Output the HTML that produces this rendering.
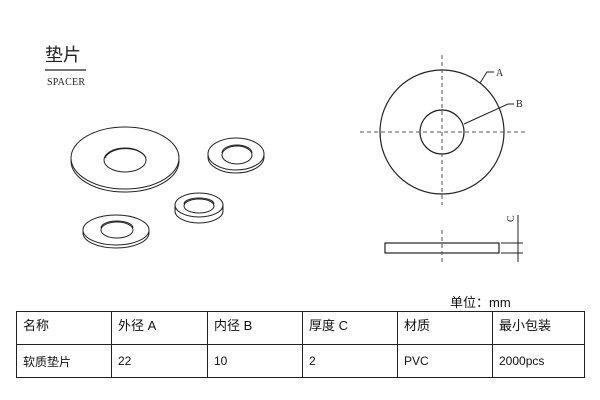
<!DOCTYPE html>
<html><head><meta charset="utf-8"><style>
body{margin:0;background:#fff;width:600px;height:400px;overflow:hidden;position:relative;font-family:"Liberation Sans","Noto Sans CJK SC",sans-serif}
table{position:absolute;left:16px;top:311px;border-collapse:collapse;font-size:12px;color:#111}
td{border:1.5px solid #222;padding:0 6px;height:33px;box-sizing:border-box;vertical-align:middle}
tr:first-child td{vertical-align:top;padding-top:3px;font-size:13px}
</style></head><body>
<svg width="600" height="400" style="position:absolute;left:0;top:0" fill="none" stroke="#222" stroke-width="1">
<text x="45" y="61" font-family="Noto Sans CJK SC,sans-serif" font-size="18" fill="#222" stroke="none">垫片</text>
<line x1="45" y1="70" x2="86" y2="70" stroke-width="1.2"/>
<text x="47" y="85" font-family="Liberation Serif,serif" font-size="10" fill="#222" stroke="none" textLength="38">SPACER</text>
<ellipse cx="125" cy="161" rx="54" ry="31"/>
<ellipse cx="125" cy="158" rx="54" ry="31" fill="#fff"/>
<ellipse cx="125" cy="160" rx="21" ry="12"/>
<path d="M105 158 A21 12 0 0 1 146 158"/>
<ellipse cx="236" cy="157" rx="28" ry="16"/>
<ellipse cx="236" cy="154" rx="28" ry="16" fill="#fff"/>
<ellipse cx="237" cy="155" rx="15" ry="9"/>
<path d="M222 153 A15 8 0 0 1 252 153"/>
<ellipse cx="199" cy="211" rx="24" ry="12"/>
<line x1="175" y1="205" x2="175" y2="211"/><line x1="223" y1="205" x2="223" y2="211"/>
<ellipse cx="199" cy="205" rx="24" ry="12" fill="#fff"/>
<ellipse cx="199" cy="206" rx="15" ry="7"/>
<path d="M184 204 A15 6 0 0 1 214 204"/>
<ellipse cx="116" cy="233" rx="33" ry="15"/>
<ellipse cx="116" cy="230" rx="33" ry="15" fill="#fff"/>
<ellipse cx="117" cy="230" rx="16" ry="8"/>
<path d="M101 228 A16 7 0 0 1 133 228"/>
<circle cx="442" cy="132" r="62" stroke-width="1.2"/>
<circle cx="442" cy="132" r="22" stroke-width="1.2"/>
<line x1="360" y1="132" x2="525" y2="132" stroke-dasharray="4,3" stroke="#555"/>
<line x1="442" y1="55" x2="442" y2="205" stroke-dasharray="4,3" stroke="#555"/>
<path d="M480 83 L487 72 L494 72"/>
<text x="496" y="76" font-family="Liberation Serif,serif" font-size="10" fill="#222" stroke="none">A</text>
<path d="M464 124 L508 104 L514 104"/>
<text x="516" y="107" font-family="Liberation Serif,serif" font-size="10" fill="#222" stroke="none">B</text>
<rect x="385" y="243" width="114" height="10" stroke-width="1.2"/>
<line x1="442" y1="230" x2="442" y2="265" stroke-dasharray="4,3" stroke="#555"/>
<line x1="501" y1="243" x2="523" y2="243"/><line x1="501" y1="253" x2="523" y2="253"/>
<line x1="518" y1="215" x2="518" y2="262"/>
<text x="0" y="0" transform="translate(514,222) rotate(-90)" font-family="Liberation Serif,serif" font-size="10" fill="#222" stroke="none">C</text>
</svg>
<div style="position:absolute;left:450px;top:292px;font-size:13px;color:#111">单位：mm</div>
<table>
<tr><td style="width:95px">名称</td><td style="width:96px">外径 A</td><td style="width:95px">内径 B</td><td style="width:95px">厚度 C</td><td style="width:95px">材质</td><td style="width:92px">最小包装</td></tr>
<tr><td>软质垫片</td><td>22</td><td>10</td><td>2</td><td>PVC</td><td>2000pcs</td></tr>
</table>
</body></html>
